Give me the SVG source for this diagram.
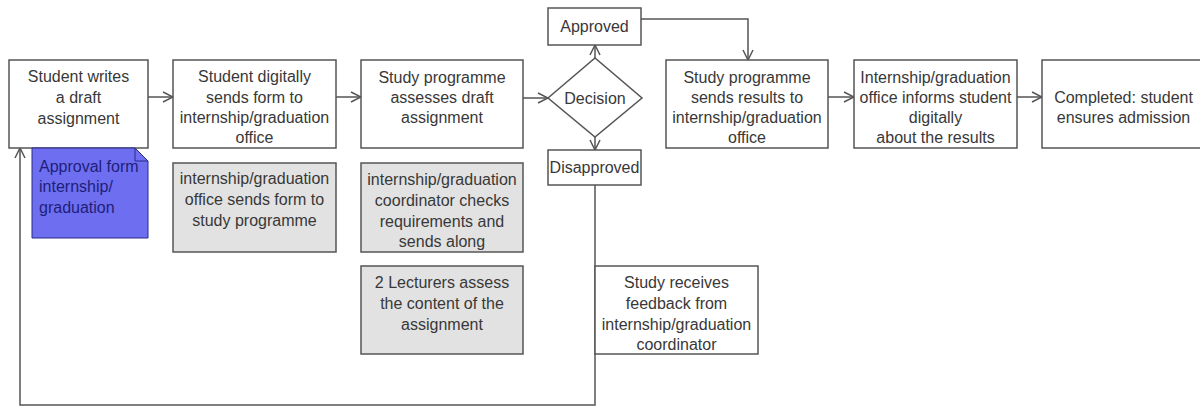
<svg xmlns="http://www.w3.org/2000/svg" width="1200" height="407" viewBox="0 0 1200 407">
<defs>
<style>
.box{fill:#fff;stroke:#555;stroke-width:1.5}
.gray{fill:#e2e2e2;stroke:#555;stroke-width:1.5}
.t{font-family:"Liberation Sans",Arial,sans-serif;font-size:16px;fill:#383838;text-anchor:middle}
.nt{font-family:"Liberation Sans",Arial,sans-serif;font-size:16px;fill:#1e1e7a}
.c{fill:none;stroke:#555;stroke-width:1.5}
</style>
<marker id="arr" viewBox="0 0 12 12" refX="11" refY="6" markerWidth="12" markerHeight="12" markerUnits="userSpaceOnUse" orient="auto">
<path d="M1,1 L11,6 L1,11" fill="none" stroke="#555" stroke-width="1.5"/>
</marker>
</defs>
<rect width="1200" height="407" fill="#fff"/>

<g id="connectors">
<line class="c" x1="148" y1="97" x2="173" y2="97" marker-end="url(#arr)"/>
<line class="c" x1="336" y1="97" x2="361" y2="97" marker-end="url(#arr)"/>
<line class="c" x1="523" y1="98" x2="548" y2="98" marker-end="url(#arr)"/>
<line class="c" x1="595" y1="58" x2="595" y2="45" marker-end="url(#arr)"/>
<line class="c" x1="595" y1="137" x2="595" y2="150" marker-end="url(#arr)"/>
<polyline class="c" points="641,19 748,19 748,60" marker-end="url(#arr)"/>
<line class="c" x1="828" y1="97" x2="854" y2="97" marker-end="url(#arr)"/>
<line class="c" x1="1017" y1="97" x2="1042" y2="97" marker-end="url(#arr)"/>
<polyline class="c" points="595,185 595,405 20,405 20,148" marker-end="url(#arr)"/>
</g>

<g id="n1">
<rect class="box" x="9" y="60" width="139" height="88"/>
<text class="t" x="78.5" y="82">Student writes</text>
<text class="t" x="78.5" y="103">a draft</text>
<text class="t" x="78.5" y="124">assignment</text>
</g>

<g id="note">
<path d="M32,148 H135 L148,161 V238 H32 Z" fill="#6e6ef0" stroke="#2a2a8a" stroke-width="1"/>
<path d="M135,148 V161 H148" fill="none" stroke="#2a2a8a" stroke-width="1"/>
<text class="nt" x="39" y="172">Approval form</text>
<text class="nt" x="39" y="192">internship/</text>
<text class="nt" x="39" y="213">graduation</text>
</g>

<g id="n2">
<rect class="box" x="173" y="60" width="163" height="88"/>
<text class="t" x="254.5" y="82">Student digitally</text>
<text class="t" x="254.5" y="103">sends form to</text>
<text class="t" x="254.5" y="123">internship/graduation</text>
<text class="t" x="254.5" y="143">office</text>
</g>

<g id="n2b">
<rect class="gray" x="173" y="163" width="163" height="89"/>
<text class="t" x="254.5" y="184">internship/graduation</text>
<text class="t" x="254.5" y="205">office sends form to</text>
<text class="t" x="254.5" y="226">study programme</text>
</g>

<g id="n3">
<rect class="box" x="361" y="60" width="162" height="88"/>
<text class="t" x="442" y="83">Study programme</text>
<text class="t" x="442" y="103">assesses draft</text>
<text class="t" x="442" y="123">assignment</text>
</g>

<g id="n3b">
<rect class="gray" x="361" y="163" width="162" height="89"/>
<text class="t" x="442" y="185">internship/graduation</text>
<text class="t" x="442" y="206">coordinator checks</text>
<text class="t" x="442" y="227">requirements and</text>
<text class="t" x="442" y="247">sends along</text>
</g>

<g id="n3c">
<rect class="gray" x="361" y="266" width="162" height="88"/>
<text class="t" x="442" y="288">2 Lecturers assess</text>
<text class="t" x="442" y="309">the content of the</text>
<text class="t" x="442" y="330">assignment</text>
</g>

<g id="decision">
<polygon points="548,98 595,58 642,98 595,137" fill="#fff" stroke="#555" stroke-width="1.5"/>
<text class="t" x="595" y="104">Decision</text>
</g>

<g id="approved">
<rect class="box" x="548" y="8" width="93" height="37"/>
<text class="t" x="594.5" y="32">Approved</text>
</g>

<g id="disapproved">
<rect class="box" x="548" y="150" width="93" height="35"/>
<text class="t" x="594.5" y="173">Disapproved</text>
</g>

<g id="feedback">
<rect class="box" x="595" y="266" width="163" height="88"/>
<text class="t" x="676.5" y="288">Study receives</text>
<text class="t" x="676.5" y="309">feedback from</text>
<text class="t" x="676.5" y="330">internship/graduation</text>
<text class="t" x="676.5" y="350">coordinator</text>
</g>

<g id="n4">
<rect class="box" x="666" y="60" width="162" height="88"/>
<text class="t" x="747" y="83">Study programme</text>
<text class="t" x="747" y="103">sends results to</text>
<text class="t" x="747" y="123">internship/graduation</text>
<text class="t" x="747" y="143">office</text>
</g>

<g id="n5">
<rect class="box" x="854" y="60" width="163" height="88"/>
<text class="t" x="935.5" y="83">Internship/graduation</text>
<text class="t" x="935.5" y="103">office informs student</text>
<text class="t" x="935.5" y="123">digitally</text>
<text class="t" x="935.5" y="143">about the results</text>
</g>

<g id="n6">
<rect class="box" x="1042" y="60" width="163" height="88"/>
<text class="t" x="1123.5" y="103">Completed: student</text>
<text class="t" x="1123.5" y="123">ensures admission</text>
</g>
</svg>
